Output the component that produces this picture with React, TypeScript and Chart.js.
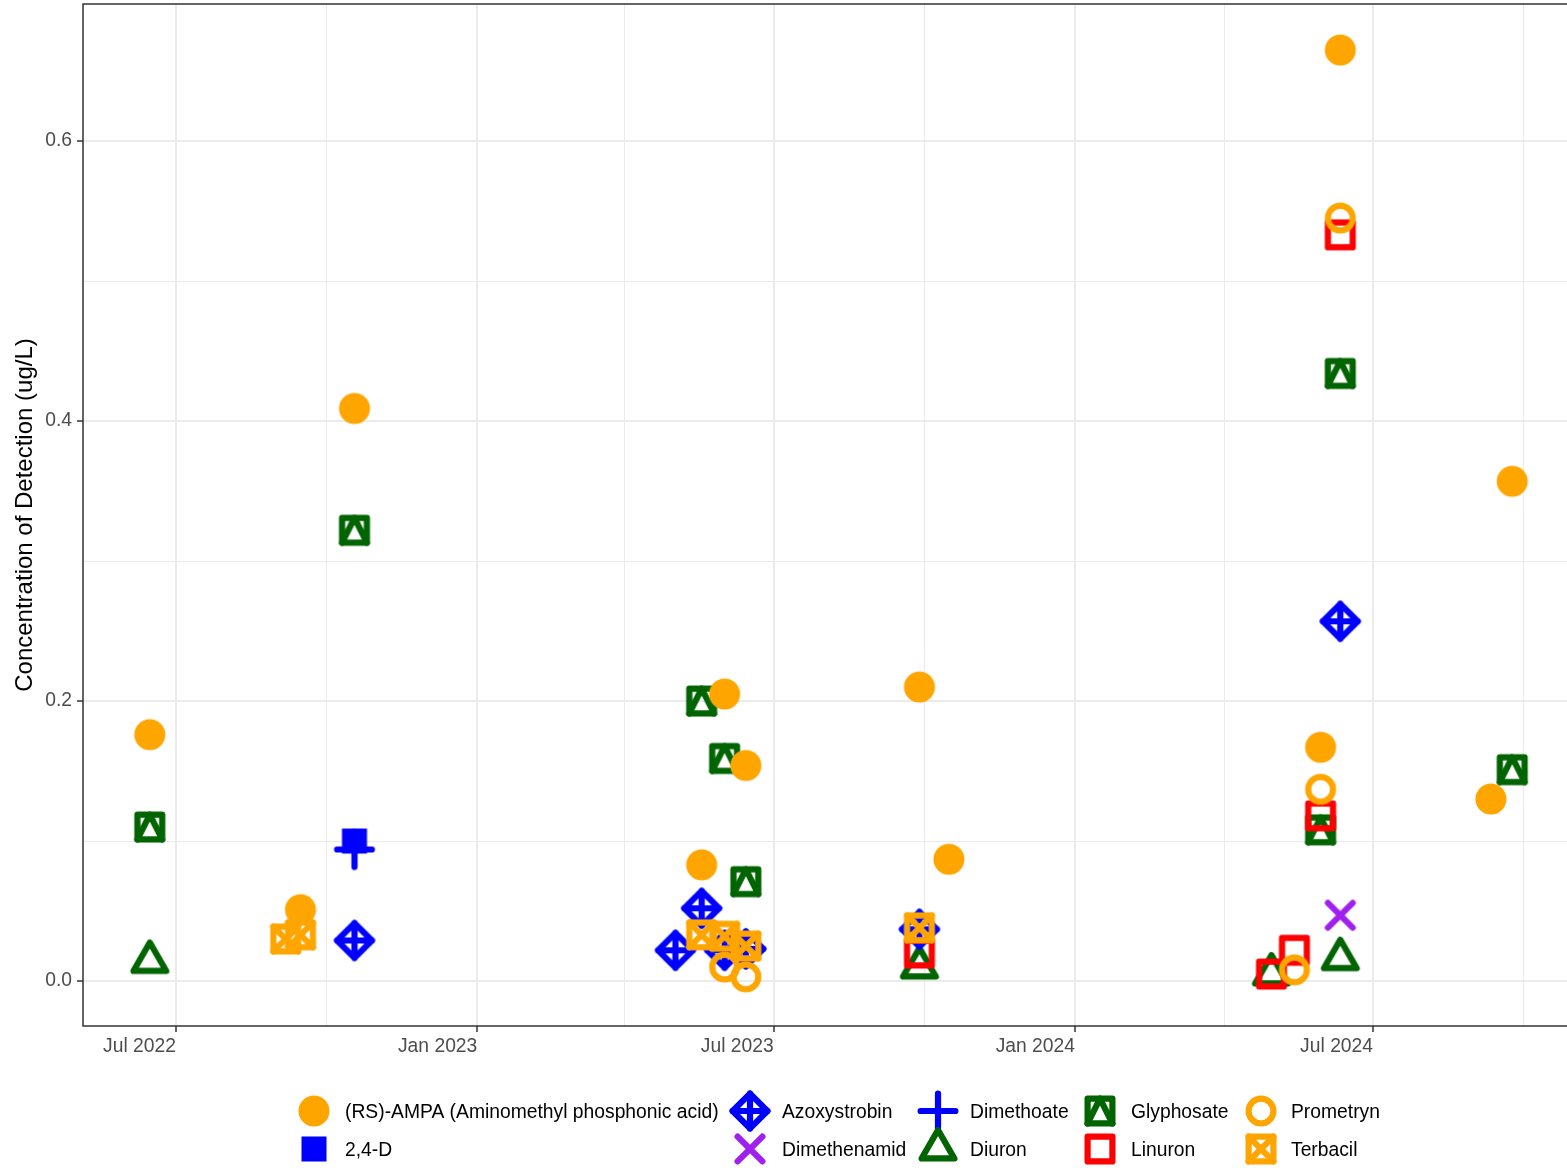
import React, { useEffect, useRef } from 'react';
import { Chart, registerables } from 'chart.js';
Chart.register(...registerables);

// ---------- data ----------
const seriesNames = [
  '(RS)-AMPA (Aminomethyl phosphonic acid)', '2,4-D', 'Azoxystrobin', 'Dimethenamid', 'Dimethoate',
  'Diuron', 'Glyphosate', 'Linuron', 'Prometryn', 'Terbacil',
];

const ampaDates = ['2022-06-15', '2022-09-15', '2022-10-18', '2023-05-18', '2023-06-01', '2023-06-14', '2023-09-28', '2023-10-16', '2024-05-30', '2024-06-11', '2024-09-11', '2024-09-24'];
const ampaValues = [0.176, 0.051, 0.409, 0.083, 0.205, 0.154, 0.210, 0.087, 0.167, 0.665, 0.130, 0.357];

const d24Dates = ['2022-10-18'];
const d24Values = [0.100];

const azoxyDates = ['2022-10-18', '2023-05-02', '2023-05-18', '2023-06-01', '2023-06-14', '2023-09-28', '2024-06-11'];
const azoxyValues = [0.029, 0.022, 0.052, 0.022, 0.023, 0.037, 0.257];

const dimethenamidDates = ['2024-06-11'];
const dimethenamidValues = [0.047];

const dimethoateDates = ['2022-10-18'];
const dimethoateValues = [0.094];

const diuronDates = ['2022-06-15', '2023-09-28', '2024-04-30', '2024-06-11'];
const diuronValues = [0.014, 0.010, 0.005, 0.016];

const glyphosateDates = ['2022-06-15', '2022-10-18', '2023-05-18', '2023-06-01', '2023-06-14', '2024-05-30', '2024-06-11', '2024-09-24'];
const glyphosateValues = [0.110, 0.322, 0.200, 0.159, 0.071, 0.108, 0.434, 0.151];

const linuronDates = ['2023-09-28', '2024-04-30', '2024-05-14', '2024-05-30', '2024-06-11'];
const linuronValues = [0.020, 0.005, 0.022, 0.118, 0.533];

const prometrynDates = ['2023-06-01', '2023-06-14', '2024-05-14', '2024-05-30', '2024-06-11'];
const prometrynValues = [0.010, 0.003, 0.008, 0.137, 0.545];

const terbacilDates = ['2022-09-06', '2022-09-15', '2023-05-18', '2023-06-01', '2023-06-14', '2023-09-28'];
const terbacilValues = [0.030, 0.033, 0.033, 0.032, 0.025, 0.038];

const xMajorTickDates = ['2022-07-01', '2023-01-01', '2023-07-01', '2024-01-01', '2024-07-01'];
const xMajorTickLabels = ['Jul 2022', 'Jan 2023', 'Jul 2023', 'Jan 2024', 'Jul 2024'];
const xMinorTickDates = ['2022-10-01', '2023-04-01', '2023-10-01', '2024-04-01', '2024-10-01'];
const yMajorTicks = [0, 0.2, 0.4, 0.6];
const yMajorTickLabels = ['0.0', '0.2', '0.4', '0.6'];
const yMinorTicks = [0.1, 0.3, 0.5];

const yTitle = 'Concentration of Detection (ug/L)';

// ---------- helpers ----------
const toDay = (s: string) => {
  const [y, m, d] = s.split('-').map(Number);
  return Date.UTC(y, m - 1, d) / 86400000;
};

const ORANGE = '#FFA500';
const BLUE = '#0000FF';
const PURPLE = '#A020F0';
const DGREEN = '#006400';
const RED = '#FF0000';
const LW = 6.2;

function makeMarker(kind: string, color: string): HTMLCanvasElement {
  const cv = document.createElement('canvas');
  cv.width = 50;
  cv.height = 50;
  const c = cv.getContext('2d')!;
  c.translate(25, 25);
  c.lineWidth = LW;
  c.lineJoin = 'round';
  c.lineCap = 'round';
  c.strokeStyle = color;
  c.fillStyle = color;
  const h = 15.5 - LW / 2;
  const sq = () => { c.beginPath(); c.rect(-h, -h, 2 * h, 2 * h); c.stroke(); };
  switch (kind) {
    case 'circleFilled':
      c.beginPath(); c.arc(0, 0, 15.5, 0, Math.PI * 2); c.fill(); break;
    case 'squareFilled':
      c.fillRect(-12.5, -12.5, 25, 25); break;
    case 'diamondPlus': {
      const s = 20.5 - LW / 2;
      c.beginPath(); c.moveTo(0, -s); c.lineTo(s, 0); c.lineTo(0, s); c.lineTo(-s, 0); c.closePath(); c.stroke();
      c.beginPath(); c.moveTo(0, -s); c.lineTo(0, s); c.moveTo(-s, 0); c.lineTo(s, 0); c.stroke();
      break;
    }
    case 'cross':
      c.beginPath(); c.moveTo(-h, -h); c.lineTo(h, h); c.moveTo(-h, h); c.lineTo(h, -h); c.stroke(); break;
    case 'plus': {
      const p = 20.5 - LW / 2;
      c.beginPath(); c.moveTo(-p, 0); c.lineTo(p, 0); c.moveTo(0, -p); c.lineTo(0, p); c.stroke(); break;
    }
    case 'triangle': {
      const xc = 19.5 - LW / 2; const r = xc * 2 / Math.sqrt(3); const yc = r / 2;
      c.beginPath(); c.moveTo(0, -r); c.lineTo(xc, yc); c.lineTo(-xc, yc); c.closePath(); c.stroke(); break;
    }
    case 'squareTriangle':
      sq();
      c.beginPath(); c.moveTo(-h, h); c.lineTo(0, -h); c.lineTo(h, h); c.stroke(); break;
    case 'squareOpen':
      sq(); break;
    case 'circleOpen':
      c.beginPath(); c.arc(0, 0, 15.5 - LW / 2, 0, Math.PI * 2); c.stroke(); break;
    case 'squareCross':
      sq();
      c.beginPath(); c.moveTo(-h, -h); c.lineTo(h, h); c.moveTo(-h, h); c.lineTo(h, -h); c.stroke(); break;
  }
  return cv;
}

const FONT = "'Liberation Sans', Arial, Helvetica, sans-serif";

export default function App() {
  const ref = useRef<HTMLCanvasElement>(null);
  useEffect(() => {
    const markers = [
      makeMarker('circleFilled', ORANGE),
      makeMarker('squareFilled', BLUE),
      makeMarker('diamondPlus', BLUE),
      makeMarker('cross', PURPLE),
      makeMarker('plus', BLUE),
      makeMarker('triangle', DGREEN),
      makeMarker('squareTriangle', DGREEN),
      makeMarker('squareOpen', RED),
      makeMarker('circleOpen', ORANGE),
      makeMarker('squareCross', ORANGE),
    ];
    const dateLists = [ampaDates, d24Dates, azoxyDates, dimethenamidDates, dimethoateDates, diuronDates, glyphosateDates, linuronDates, prometrynDates, terbacilDates];
    const valueLists = [ampaValues, d24Values, azoxyValues, dimethenamidValues, dimethoateValues, diuronValues, glyphosateValues, linuronValues, prometrynValues, terbacilValues];
    // lower order = drawn on top
    const drawOrder = [0, 6, 7, 4, 5, 9, 8, 3, 1, 2];

    const datasets = seriesNames.map((name, i) => ({
      label: name,
      data: dateLists[i].map((d, j) => ({ x: toDay(d), y: valueLists[i][j] })),
      pointStyle: markers[i] as any,
      pointRadius: 15,
      order: drawOrder[i],
      showLine: false,
      clip: false as any,
    }));

    const d0 = toDay('2022-07-01');
    const pxPerDay = 1.6375;
    const xMin = d0 - 56.8;
    const xMax = xMin + (1590 - 83) / pxPerDay;

    const xMajor = xMajorTickDates.map(toDay);
    const xMinor = xMinorTickDates.map(toDay);
    const xMinorSet = new Set(xMinor);
    const yMinorSet = new Set(yMinorTicks);

    const legendPlugin = {
      id: 'customDecor',
      afterDraw(chart: any) {
        const ctx = chart.ctx as CanvasRenderingContext2D;
        const a = chart.chartArea;
        ctx.save();
        // panel border
        ctx.strokeStyle = '#333333';
        ctx.lineWidth = 1.5;
        ctx.strokeRect(a.left, a.top, a.right - a.left, a.bottom - a.top);
        // y title
        ctx.fillStyle = '#000000';
        ctx.font = `24px ${FONT}`;
        ctx.textAlign = 'center';
        ctx.textBaseline = 'middle';
        ctx.translate(25, (a.top + a.bottom) / 2);
        ctx.rotate(-Math.PI / 2);
        ctx.fillText(yTitle, 0, 0);
        ctx.restore();
        // legend (column-major, 2 rows)
        ctx.save();
        const symX = [314, 750, 938, 1100, 1261];
        const txtX = [345, 782, 970, 1131, 1291];
        const rowY = [1111, 1149];
        ctx.font = `19.3px ${FONT}`;
        ctx.fillStyle = '#000000';
        ctx.textAlign = 'left';
        ctx.textBaseline = 'middle';
        seriesNames.forEach((name, i) => {
          const col = Math.floor(i / 2);
          const row = i % 2;
          const m = markers[i];
          ctx.drawImage(m, symX[col] - m.width / 2, rowY[row] - m.height / 2);
          ctx.fillText(name, txtX[col], rowY[row] + 1.5);
        });
        ctx.restore();
      },
    };

    const chart = new Chart(ref.current!, {
      type: 'scatter',
      data: { datasets },
      options: {
        animation: false,
        responsive: false,
        events: [],
        layout: { autoPadding: false, padding: { top: 4, left: 0, right: 10, bottom: 100 } },
        plugins: { legend: { display: false }, tooltip: { enabled: false } },
        scales: {
          x: {
            type: 'linear',
            min: xMin,
            max: xMax,
            afterBuildTicks: (s: any) => {
              s.ticks = [...xMajor, ...xMinor].sort((p, q) => p - q).map((v) => ({ value: v }));
            },
            afterFit: (s: any) => {
              s.height = 42;
              s.paddingLeft = 0; s.paddingRight = 0; s.paddingTop = 0; s.paddingBottom = 0;
            },
            border: { display: false },
            grid: {
              color: '#EBEBEB',
              lineWidth: (c: any) => (c.tick && xMinorSet.has(c.tick.value) ? 1 : 2),
              tickColor: (c: any) => (c.tick && xMinorSet.has(c.tick.value) ? 'rgba(0,0,0,0)' : '#333333'),
              tickWidth: 1.5,
              tickLength: 6,
            },
            ticks: {
              autoSkip: false,
              maxRotation: 0,
              minRotation: 0,
              align: 'end',
              padding: 3,
              color: '#4D4D4D',
              font: { family: FONT, size: 19.3 },
              callback: (v: any) => {
                const k = xMajor.indexOf(Number(v));
                return k >= 0 ? xMajorTickLabels[k] : '';
              },
            },
          },
          y: {
            type: 'linear',
            min: -0.0321,
            max: 0.6979,
            afterBuildTicks: (s: any) => {
              s.ticks = [...yMajorTicks, ...yMinorTicks].sort((p, q) => p - q).map((v) => ({ value: v }));
            },
            afterFit: (s: any) => {
              s.width = 83;
              s.paddingLeft = 0; s.paddingRight = 0; s.paddingTop = 0; s.paddingBottom = 0;
            },
            border: { display: false },
            grid: {
              color: '#EBEBEB',
              lineWidth: (c: any) => (c.tick && yMinorSet.has(c.tick.value) ? 1 : 2),
              tickColor: (c: any) => (c.tick && yMinorSet.has(c.tick.value) ? 'rgba(0,0,0,0)' : '#333333'),
              tickWidth: 1.5,
              tickLength: 6,
            },
            ticks: {
              autoSkip: false,
              padding: 5,
              color: '#4D4D4D',
              font: { family: FONT, size: 19.3 },
              callback: (v: any) => {
                const k = yMajorTicks.indexOf(Number(v));
                return k >= 0 ? yMajorTickLabels[k] : '';
              },
            },
          },
        },
      },
      plugins: [legendPlugin],
    } as any);
    return () => chart.destroy();
  }, []);

  return (
    <div style={{ position: 'absolute', left: 0, top: 0, width: 1567, height: 1168, overflow: 'hidden', background: '#fff' }}>
      <canvas ref={ref} width={1600} height={1168} style={{ width: 1600, height: 1168, display: 'block' }} />
    </div>
  );
}
